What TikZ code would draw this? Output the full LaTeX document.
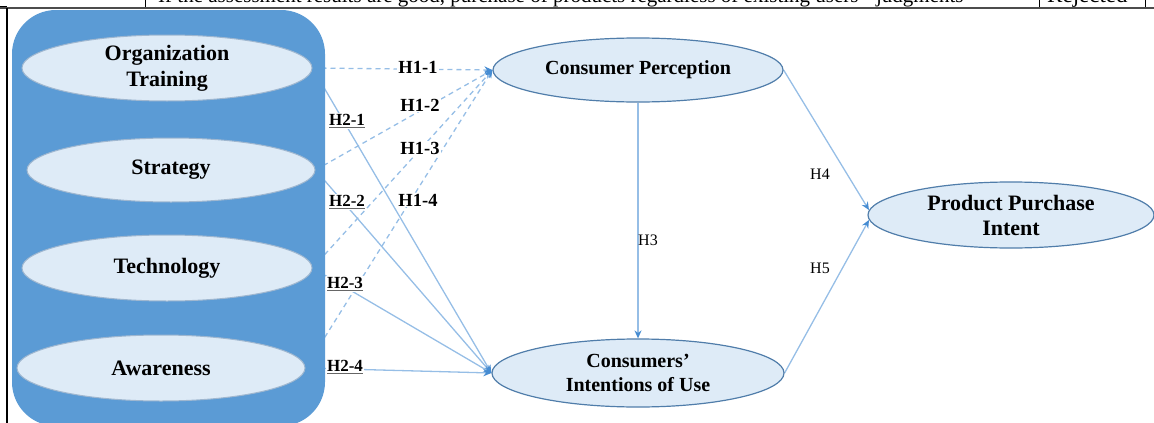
\documentclass[tikz,border=0pt]{standalone}
\usepackage{fontspec}
\setmainfont{Liberation Serif}
\usetikzlibrary{shapes.geometric,arrows.meta}
\definecolor{boxblue}{RGB}{91,155,213}
\definecolor{elfill}{RGB}{222,235,247}
\definecolor{eldraw}{RGB}{80,125,170}
\definecolor{lineblue}{RGB}{150,190,230}
\definecolor{tipblue}{RGB}{70,140,210}
\pgfdeclarelayer{conn}
\pgfdeclarelayer{box}
\pgfsetlayers{conn,box,main}
\newcommand{\ulgray}[1]{{\color{gray!80!black}\underline{\textcolor{black}{#1}}}}
\begin{document}
\begin{tikzpicture}[x=1pt,y=-1pt,
  ell/.style={ellipse, draw=eldraw, line width=1.2pt, fill=elfill, inner sep=0pt, align=center},
  leftell/.style={ell, draw=eldraw!55, line width=1pt, font=\bfseries\fontsize{22}{26}\selectfont},
  midell/.style={ell, font=\bfseries\fontsize{20}{23.5}\selectfont},
  rightell/.style={ell, font=\bfseries\fontsize{22}{25}\selectfont},
  hlab/.style={fill=white, inner sep=1pt, font=\bfseries\fontsize{18.5}{20}\selectfont},
  htwolab/.style={fill=white, inner sep=1pt, font=\bfseries\fontsize{17}{19}\selectfont},
  hsmall/.style={inner sep=1pt, font=\fontsize{16}{18}\selectfont},
  tip/.style={-{Stealth[length=8pt,width=7pt,color=tipblue]}},
  dashconn/.style={tip, draw=lineblue, line width=1.3pt, dash pattern=on 5pt off 4pt},
  solidconn/.style={tip, draw=lineblue, line width=1.3pt},
  tabletext/.style={anchor=base west, inner sep=0pt, font=\fontsize{21}{24}\selectfont}
]
\useasboundingbox (0,0) rectangle (1154,423);

% top table strip (cropped)
\begin{scope}
  \clip (0,0) rectangle (1154,7.5);
  \node[tabletext] (tt) at (158,2.5) {If the assessment results are good, purchase of products regardless of existing users'~ judgments};
  \node[tabletext, font=\fontsize{23}{25}\selectfont] (rej) at (1047,2.5) {Rejected};
\end{scope}
\draw[black, line width=1pt] (145,0) -- (145,7) (1039,0) -- (1039,7) (1145,0) -- (1145,7) (0,6) -- (7,6);
\draw[gray!60!black, line width=2.5pt] (0,8) -- (1154,8);
\draw[black, line width=1.5pt] (7,8) -- (7,423);

% container
\begin{pgfonlayer}{box}
  \fill[boxblue, rounded corners=44pt] (12,10) rectangle (325,426);
\end{pgfonlayer}

% ellipses
\node[leftell, minimum width=290pt, minimum height=66pt] (org) at (167,68) {Organization\\Training};
\node[leftell, minimum width=288pt, minimum height=64pt] (strat) at (171,170) {Strategy};
\node[leftell, minimum width=290pt, minimum height=66pt] (tech) at (167,268) {Technology};
\node[leftell, minimum width=288pt, minimum height=66pt] (aware) at (161,368) {Awareness};

\node[midell, minimum width=290pt, minimum height=64pt] (cp) at (638,70) {Consumer Perception};
\node[midell, minimum width=292pt, minimum height=68pt] (ciu) at (638,373) {Consumers'\\Intentions of Use};
\node[rightell, minimum width=286pt, minimum height=66pt] (ppi) at (1011,215) {Product Purchase\\Intent};

% labels
\node[hlab] (l11) at (418,67) {H1-1};
\node[hlab] (l12) at (420,105) {H1-2};
\node[hlab] (l13) at (420,148) {H1-3};
\node[hlab] (l14) at (418,200) {H1-4};
\node[htwolab] (l21) at (347,121) {\ulgray{H2-1}};
\node[htwolab] (l22) at (347,202) {\ulgray{H2-2}};
\node[htwolab] (l23) at (345,284) {\ulgray{H2-3}};
\node[htwolab] (l24) at (345,367) {\ulgray{H2-4}};
\node[hsmall] (l3) at (648,240) {H3};
\node[hsmall] (l4) at (820,174) {H4};
\node[hsmall] (l5) at (820,268) {H5};

% connectors
\begin{pgfonlayer}{conn}
  \draw[dashconn] (org.east) -- (cp.west);
  \draw[dashconn] (strat.east) -- (cp.west);
  \draw[dashconn] (tech.east) -- (cp.west);
  \draw[dashconn] (aware.east) -- (cp.west);
  \draw[solidconn] (org.east) -- (ciu.west);
  \draw[solidconn] (strat.east) -- (ciu.west);
  \draw[solidconn] (tech.east) -- (ciu.west);
  \draw[solidconn] (aware.east) -- (ciu.west);
  \draw[solidconn] (cp.south) -- (ciu.north);
  \draw[solidconn] (cp.east) -- (ppi.178);
  \draw[solidconn] (ciu.east) -- (ppi.182);
\end{pgfonlayer}
\end{tikzpicture}
\end{document}
